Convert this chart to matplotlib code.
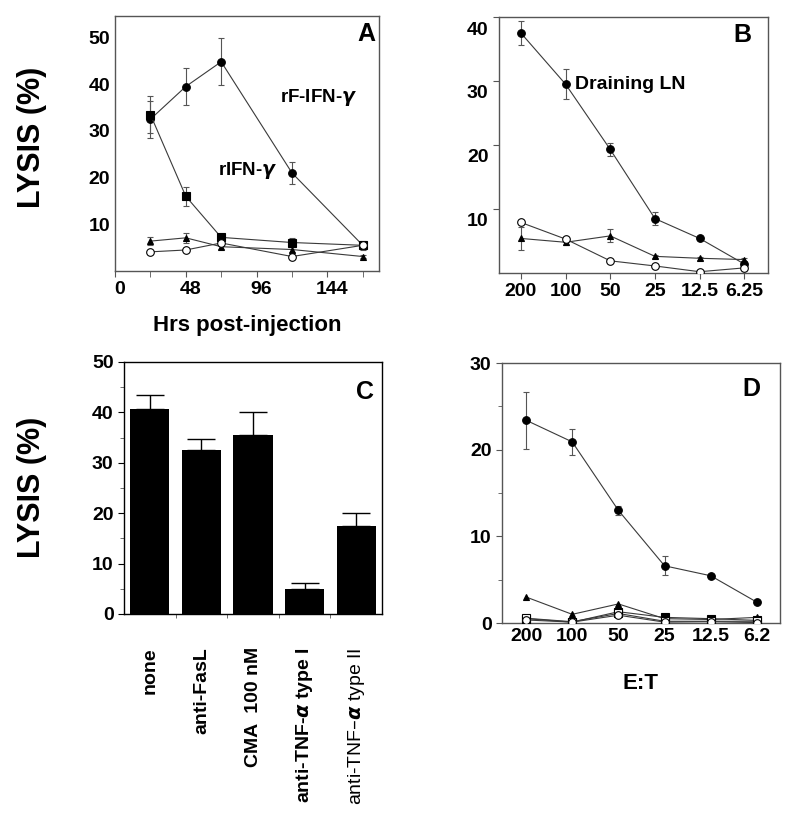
import matplotlib
matplotlib.use("Agg")
import matplotlib.pyplot as plt
import matplotlib.transforms as mtransforms
import numpy as np

plt.rcParams['font.family'] = ['Liberation Sans', 'DejaVu Sans']
plt.rcParams['font.weight'] = 'bold'
plt.rcParams['mathtext.fontset'] = 'dejavusans'

# ---------------- Panel A data ----------------
a_hours = [24, 48, 72, 120, 168]
a_rf_ifn = [32.5, 39.5, 44.8, 21.0, 5.5]
a_rf_ifn_err = [4.0, 4.0, 5.0, 2.3, 1.0]
a_rifn = [33.5, 16.0, 7.2, 6.1, 5.5]
a_rifn_err = [4.0, 2.0, 0.8, 1.0, 0.8]
a_tri = [6.4, 7.1, 5.2, 4.6, 3.1]
a_tri_err = [0.8, 1.0, 0.4, 0.6, 0.3]
a_open = [4.1, 4.5, 6.0, 3.1, 5.5]
a_xticks = [0, 48, 96, 144]
a_yticks = [10, 20, 30, 40, 50]

# ---------------- Panel B data ----------------
et_b = ['200', '100', '50', '25', '12.5', '6.25']
b_filled = [37.5, 29.5, 19.3, 8.5, 5.4, 1.4]
b_filled_err = [1.8, 2.3, 1.0, 1.0, 0.3, 0.3]
b_tri = [5.4, 4.8, 5.8, 2.6, 2.3, 2.1]
b_tri_err = [1.8, 0.4, 1.0, 0.2, 0.2, 0.2]
b_open = [7.9, 5.3, 1.9, 1.1, 0.2, 0.8]
b_yticks = [10, 20, 30, 40]

# ---------------- Panel C data ----------------
c_labels = ['none', 'anti-FasL', 'CMA  100 nM', 'anti-TNF-$\\alpha$ type I',
            'anti-TNF\u2013$\\alpha$ type II']
c_values = [40.7, 32.5, 35.5, 5.0, 17.5]
c_err = [2.7, 2.2, 4.5, 1.2, 2.6]
c_yticks = [0, 10, 20, 30, 40, 50]

# ---------------- Panel D data ----------------
et_d = ['200', '100', '50', '25', '12.5', '6.2']
d_filled = [23.4, 20.9, 13.0, 6.6, 5.45, 2.4]
d_filled_err = [3.3, 1.5, 0.5, 1.1, 0.2, 0.2]
d_tri = [3.0, 1.0, 2.2, 0.5, 0.4, 0.65]
d_sq = [0.5, 0.1, 1.3, 0.65, 0.5, 0.3]
d_opensq = [0.55, 0.15, 1.1, 0.2, 0.2, 0.2]
d_open = [0.35, 0.1, 0.9, 0.1, 0.15, 0.05]
d_yticks = [0, 10, 20, 30]

W, H = 800, 815
fig = plt.figure(figsize=(W / 100, H / 100), dpi=100)


def box(l, t, r, b):
    return fig.add_axes([l / W, 1 - b / H, (r - l) / W, (b - t) / H])


LC = '#3a3a3a'
SPC = '#555555'
TICKFS = 14


def style(ax, spcol=SPC):
    for s in ax.spines.values():
        s.set_color(spcol)
        s.set_linewidth(1.0)
    ax.tick_params(direction='out', length=4, width=0.8, color=spcol,
                   labelsize=TICKFS)
    for lab in ax.get_xticklabels() + ax.get_yticklabels():
        lab.set_fontweight('bold')


def series(ax, x, y, marker, filled=True, err=None, ms=5.5):
    ax.plot(x, y, color=LC, lw=0.8, marker=marker, ms=ms,
            mfc='black' if filled else 'white', mec='black', mew=0.8,
            zorder=3)
    if err is not None:
        ax.errorbar(x, y, yerr=err, fmt='none', ecolor='#555555',
                    elinewidth=0.8, capsize=2.5, capthick=0.8, zorder=2)


# ---------------- Panel A ----------------
axA = box(115, 16, 379, 271)
series(axA, a_hours, a_rf_ifn, 'o', err=a_rf_ifn_err)
series(axA, a_hours, a_rifn, 's', err=a_rifn_err)
series(axA, a_hours, a_tri, '^', err=a_tri_err, ms=5)
series(axA, a_hours, a_open, 'o', filled=False)
axA.set_xlim(0, 179)
axA.set_ylim(0, 54.6)
axA.set_xticks(a_xticks)
axA.set_xticks([24, 72, 120, 168], minor=True)
axA.set_yticks(a_yticks)
style(axA)
axA.tick_params(axis='y', length=0)
axA.tick_params(axis='x', which='minor', length=4, color=SPC)
offA = mtransforms.ScaledTranslation(0.05, 0, fig.dpi_scale_trans)
for lab in axA.get_xticklabels():
    lab.set_transform(lab.get_transform() + offA)
axA.set_xlabel('Hrs post-injection', fontsize=16, fontweight='bold',
               labelpad=12)
axA.text(0.985, 0.93, 'A', transform=axA.transAxes, ha='right', va='center',
         fontsize=18, fontweight='bold')
axA.text(112, 37.2, 'rF-IFN-$\\gamma$', fontsize=13.5, fontweight='bold',
         va='center', ha='left')
axA.text(70, 21.5, 'rIFN-$\\gamma$', fontsize=13.5, fontweight='bold',
         va='center', ha='left')

# ---------------- Panel B ----------------
axB = box(499, 17, 768, 273)
xb = np.arange(len(et_b))
series(axB, xb, b_filled, 'o', err=b_filled_err)
series(axB, xb, b_tri, '^', err=b_tri_err, ms=5)
series(axB, xb, b_open, 'o', filled=False)
axB.set_xlim(-0.49, 5.53)
axB.set_ylim(0, 40)
axB.set_xticks(xb)
axB.set_xticklabels(et_b)
axB.set_yticks(b_yticks)
style(axB)
offB = mtransforms.ScaledTranslation(0, -0.11, fig.dpi_scale_trans)
for lab in axB.get_yticklabels():
    lab.set_transform(lab.get_transform() + offB)
axB.text(0.94, 0.93, 'B', transform=axB.transAxes, ha='right', va='center',
         fontsize=18, fontweight='bold')
axB.text(1.2, 29.4, 'Draining LN', fontsize=14, fontweight='bold',
         va='center', ha='left')

# ---------------- Panel C ----------------
axC = box(124, 362, 382, 614)
xc = np.arange(len(c_labels))
axC.bar(xc, c_values, width=0.76, color='black', zorder=2)
axC.errorbar(xc, c_values, yerr=[np.zeros(len(c_err)), c_err], fmt='none',
             ecolor='black', elinewidth=1.0, capsize=10, capthick=1.0,
             zorder=1)
axC.set_xlim(-0.5, 4.5)
axC.set_ylim(0, 50)
axC.set_yticks(c_yticks)
axC.set_yticks([5, 15, 25, 35, 45], minor=True)
axC.set_xticks(xc)
axC.set_xticks([0.5, 1.5, 2.5, 3.5], minor=True)
axC.set_xticklabels(c_labels, rotation=90)
style(axC, spcol='black')
axC.tick_params(axis='x', which='major', length=0, pad=24)
axC.tick_params(axis='x', which='minor', length=3, color='#555555')
axC.tick_params(axis='y', which='minor', length=3, color='#555555')
axC.get_xticklabels()[-1].set_fontweight('normal')
axC.text(0.97, 0.88, 'C', transform=axC.transAxes, ha='right', va='center',
         fontsize=18, fontweight='bold')

# ---------------- Panel D ----------------
axD = box(502, 363, 780, 623)
xd = np.arange(len(et_d))
series(axD, xd, d_filled, 'o', err=d_filled_err)
series(axD, xd, d_tri, '^', ms=5)
series(axD, xd, d_sq, 's')
series(axD, xd, d_opensq, 's', filled=False)
series(axD, xd, d_open, 'o', filled=False)
axD.set_xlim(-0.52, 5.5)
axD.set_ylim(0, 30)
axD.set_xticks(xd)
axD.set_xticklabels(et_d)
axD.set_yticks(d_yticks)
axD.set_yticks([5, 15, 25], minor=True)
style(axD)
axD.tick_params(axis='x', length=0)
axD.tick_params(axis='y', which='minor', length=3, color=SPC)
axD.set_xlabel('E:T', fontsize=16, fontweight='bold', labelpad=20)
axD.text(0.93, 0.9, 'D', transform=axD.transAxes, ha='right', va='center',
         fontsize=18, fontweight='bold')

# y labels
fig.text(32 / W, 1 - 137 / H, 'LYSIS (%)', rotation=90, ha='center',
         va='center', fontsize=22, fontweight='bold')
fig.text(32 / W, 1 - 487 / H, 'LYSIS (%)', rotation=90, ha='center',
         va='center', fontsize=22, fontweight='bold')

fig.savefig('out.png', dpi=100, facecolor='white')
